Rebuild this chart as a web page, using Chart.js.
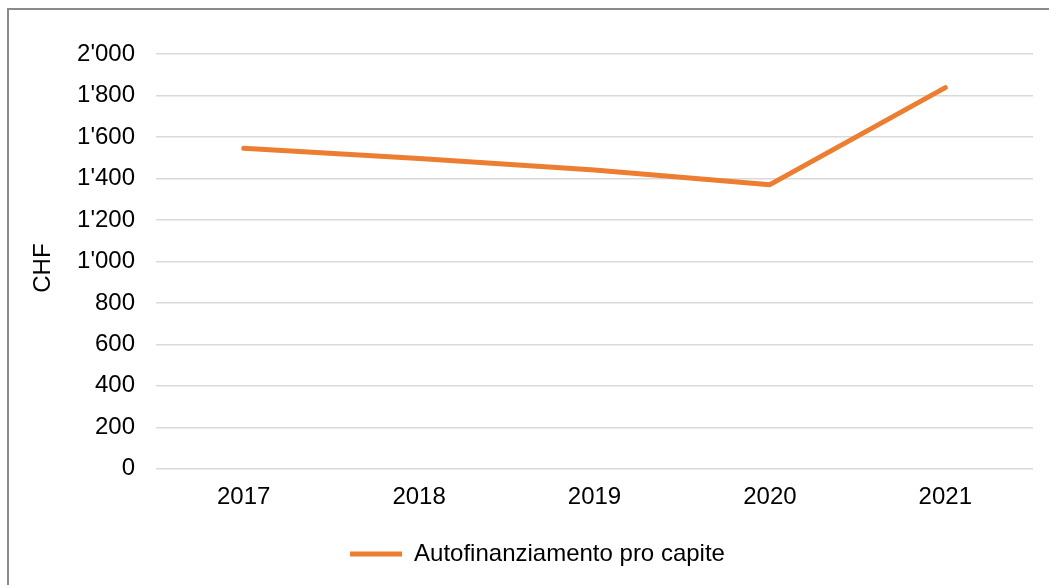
<!DOCTYPE html>
<html>
<head>
<meta charset="utf-8">
<script src="https://cdn.jsdelivr.net/npm/chart.js@4/dist/chart.umd.min.js"></script>
<style>
  html, body { margin: 0; padding: 0; background: #fff; overflow: hidden; }
  #wrap { position: relative; width: 1049px; height: 585px; }
  #frame { position: absolute; left: 7px; top: 8px; width: 1100px; height: 650px;
           border-left: 2px solid #8a8a8a; border-top: 2px solid #8a8a8a; pointer-events: none; }
  canvas { position: absolute; left: 0; top: 0; }
</style>
</head>
<body>
<div id="wrap">
  <canvas id="c" width="1049" height="585"></canvas>
  <div id="frame"></div>
</div>
<script>
const categories = ['2017', '2018', '2019', '2020', '2021'];
const seriesName = 'Autofinanziamento pro capite';
const seriesValues = [1545, 1496, 1441, 1370, 1838];
const yTickValues = [0, 200, 400, 600, 800, 1000, 1200, 1400, 1600, 1800, 2000];
const yAxisTitle = 'CHF';

function fmt(v) {
  return String(v).replace(/\B(?=(\d{3})+(?!\d))/g, "'");
}

const FONT = 'Liberation Sans, Arial, sans-serif';
const ORANGE = '#ED7D31';
const FS = 24;

new Chart(document.getElementById('c'), {
  type: 'line',
  data: {
    labels: categories,
    datasets: [{
      label: seriesName,
      data: seriesValues,
      borderColor: ORANGE,
      backgroundColor: ORANGE,
      borderWidth: 5,
      borderCapStyle: 'round',
      borderJoinStyle: 'round',
      pointRadius: 0,
      pointHoverRadius: 0,
      tension: 0,
      fill: false
    }]
  },
  options: {
    responsive: false,
    animation: false,
    events: [],
    layout: { padding: { left: 42, right: 16, top: 54, bottom: 9 } },
    plugins: {
      tooltip: { enabled: false },
      legend: {
        position: 'bottom',
        labels: {
          usePointStyle: true,
          pointStyle: 'line',
          pointStyleWidth: 52,
          boxHeight: FS,
          padding: 10,
          color: '#000',
          font: { family: FONT, size: FS }
        }
      }
    },
    scales: {
      x: {
        type: 'category',
        offset: true,
        grid: { display: false, drawTicks: false },
        border: { display: false },
        ticks: { color: '#000', padding: 14, maxRotation: 0, font: { family: FONT, size: FS } },
        afterFit(scale) { scale.height = 63.2; }
      },
      y: {
        min: 0,
        max: 2000,
        afterBuildTicks(scale) { scale.ticks = yTickValues.map(v => ({ value: v })); },
        grid: { color: '#d9d9d9', lineWidth: 1.5, drawTicks: false },
        border: { display: false },
        ticks: {
          color: '#000',
          padding: 21,
          font: { family: FONT, size: FS },
          callback: (v) => fmt(v)
        },
        title: {
          display: true,
          text: yAxisTitle + '  ',
          color: '#000',
          font: { family: FONT, size: FS },
          padding: { top: -13, bottom: 0 }
        },
        afterFit(scale) { scale.width = 114; }
      }
    }
  }
});
</script>
</body>
</html>
